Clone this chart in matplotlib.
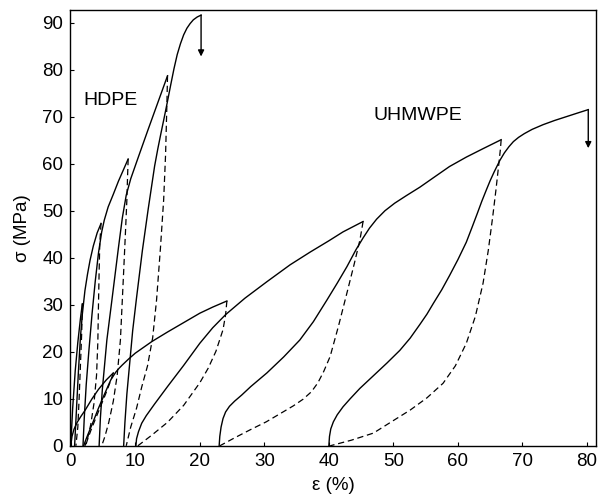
import numpy as np
import matplotlib.pyplot as plt

plt.rcParams['font.family'] = ['Liberation Sans', 'DejaVu Sans']

# strain (%) / stress (MPa)
# HDPE: solid = loading, dashed = unloading
hd_l1_e = [0.0, 0.3, 0.7, 1.1, 1.5, 1.8]
hd_l1_s = [0.0, 8.0, 16.0, 22.0, 27.0, 30.2]
hd_u1_e = [1.8, 1.7, 1.5, 1.3, 1.1, 0.8]
hd_u1_s = [30.2, 24.0, 17.0, 10.0, 4.0, 0.0]
hd_l2_e = [0.6, 0.9, 1.2, 1.5, 1.8, 2.2, 2.6, 3.0, 3.5, 4.1, 4.7]
hd_l2_s = [0.0, 8.0, 16.0, 23.0, 28.0, 33.0, 36.5, 39.5, 42.5, 45.3, 47.3]
hd_u2_e = [4.7, 4.5, 4.4, 4.3, 4.2, 4.0, 3.6, 3.1, 2.6, 2.2]
hd_u2_s = [47.3, 43.0, 37.0, 30.0, 22.0, 15.0, 9.0, 4.5, 1.5, 0.0]
hd_l3_e = [1.9, 2.1, 2.4, 2.8, 3.3, 3.8, 4.3, 4.8, 5.2, 5.8, 6.6, 7.4, 8.2, 8.9]
hd_l3_s = [0.0, 6.0, 13.0, 20.0, 28.0, 35.0, 41.0, 45.5, 48.0, 50.8, 53.5, 56.3,
           58.8, 61.0]
hd_u3_e = [8.9, 8.8, 8.7, 8.5, 8.2, 7.7, 7.2, 6.6, 5.9, 5.3, 4.8]
hd_u3_s = [61.0, 57.0, 52.3, 46.0, 37.0, 22.5, 15.0, 9.5, 5.0, 2.0, 0.0]
hd_l4_e = [4.4, 4.6, 4.9, 5.6, 6.4, 7.4, 8.0, 8.6, 9.3, 10.5, 12.0, 13.5, 15.0]
hd_l4_s = [0.0, 6.0, 12.0, 22.5, 31.2, 42.2, 48.5, 53.3, 56.8, 61.5, 67.3, 73.0,
           78.7]
hd_u4_e = [15.0, 14.9, 14.7, 14.4, 13.9, 13.3, 12.7, 11.9, 11.0, 10.2, 9.3, 8.6]
hd_u4_s = [78.7, 72.5, 62.0, 52.3, 42.0, 31.0, 23.0, 17.0, 12.5, 8.0, 4.0, 0.0]
hd_l5_e = [8.2, 8.4, 8.7, 9.1, 9.6, 10.2, 11.1, 12.0, 13.0, 13.5, 14.0, 14.5,
           15.0, 15.5, 16.0, 16.5, 17.0, 17.5, 18.0, 18.5, 19.0, 19.6, 20.2]
hd_l5_s = [0.0, 5.0, 11.0, 17.0, 24.5, 31.5, 41.5, 50.3, 59.5, 63.2, 66.6, 69.9,
           73.3, 76.8, 80.2, 83.2, 85.5, 87.4, 88.8, 89.8, 90.6, 91.2, 91.6]
hd_break = 82.8

# UHMWPE
uh_l1_e = [0.0, 0.2, 0.5, 1.0, 1.6, 2.2, 3.3, 4.3, 5.5, 6.6]
uh_l1_s = [0.0, 2.0, 3.5, 5.0, 6.3, 7.5, 10.0, 12.0, 14.0, 15.5]
uh_u1_e = [6.6, 6.1, 5.4, 4.6, 3.8, 3.1, 2.6, 2.3]
uh_u1_s = [15.5, 13.5, 11.0, 8.3, 5.6, 3.2, 1.3, 0.0]
uh_l2_e = [2.0, 2.4, 2.9, 3.5, 4.3, 5.3, 6.2, 7.0, 7.5, 8.0, 9.0, 10.0, 12.6, 15.0,
           17.5, 20.0, 22.0, 24.2]
uh_l2_s = [0.0, 1.5, 3.2, 5.2, 8.0, 11.2, 14.0, 15.7, 16.5, 17.2, 18.5, 19.7,
           22.2, 24.2, 26.2, 28.2, 29.5, 30.8]
uh_u2_e = [24.2, 24.0, 23.6, 22.5, 21.3, 20.0, 17.5, 15.0, 12.5, 10.4]
uh_u2_s = [30.8, 27.9, 24.7, 20.1, 16.5, 13.4, 8.6, 5.0, 2.2, 0.0]
uh_l3_e = [10.1, 10.2, 10.5, 11.0, 11.7, 13.0, 15.0, 17.5, 20.0, 22.0, 24.0, 27.0,
           30.4, 34.0, 37.1, 40.0, 42.2, 45.3]
uh_l3_s = [0.0, 1.5, 3.0, 4.8, 6.4, 8.9, 12.6, 17.1, 21.8, 25.1, 27.9, 31.4,
           34.9, 38.5, 41.2, 43.6, 45.5, 47.7]
uh_u3_e = [45.3, 45.1, 44.8, 43.9, 42.8, 41.5, 40.2, 39.2, 38.3, 37.3, 36.0, 34.5,
           32.9, 30.3, 27.8, 25.4, 23.1]
uh_u3_s = [47.7, 46.0, 43.7, 38.5, 32.5, 25.5, 19.0, 15.8, 13.4, 11.5, 9.9, 8.5,
           7.2, 5.1, 3.4, 1.7, 0.0]
uh_l4_e = [23.0, 23.1, 23.3, 23.6, 24.0, 24.6, 25.4, 26.5, 27.9, 30.4, 33.0, 35.5,
           37.6, 39.7, 41.3, 42.8, 44.2, 45.3, 46.3, 47.4, 48.7, 50.2, 52.0, 54.1,
           56.5, 58.7, 61.3, 63.9, 66.7]
uh_l4_s = [0.0, 2.0, 4.0, 5.8, 7.2, 8.4, 9.5, 10.8, 12.6, 15.5, 18.9, 22.5,
           26.4, 31.0, 34.6, 38.1, 41.7, 44.2, 46.3, 48.2, 50.0, 51.6, 53.2, 55.0,
           57.3, 59.4, 61.4, 63.2, 65.1]
uh_u4_e = [66.7, 66.6, 66.4, 65.9, 65.4, 64.7, 63.9, 62.7, 61.3, 59.6, 57.7, 55.2,
           52.6, 49.8, 46.9, 43.5, 40.2]
uh_u4_s = [65.1, 63.3, 60.7, 54.5, 48.8, 41.5, 34.6, 27.5, 21.8, 17.0, 13.3, 10.2,
           7.6, 5.2, 2.7, 1.2, 0.0]
uh_l5_e = [40.0, 40.1, 40.3, 40.7, 41.3, 42.2, 43.3, 44.8, 46.9, 49.0, 51.0, 52.6,
           54.1, 55.2, 56.2, 57.5, 58.7, 60.0, 61.3, 62.2, 63.0, 63.7, 64.4, 65.0,
           65.6, 66.5, 67.2, 67.9, 68.6, 69.4, 70.3, 71.5, 73.2, 75.0, 76.8, 78.6,
           80.2]
uh_l5_s = [0.0, 2.0, 3.6, 5.1, 6.6, 8.3, 10.0, 12.2, 14.9, 17.6, 20.3, 22.9,
           25.8, 28.0, 30.3, 33.2, 36.2, 39.6, 43.3, 46.5, 49.4, 52.0, 54.4, 56.4,
           58.2, 60.7, 62.3, 63.6, 64.7, 65.6, 66.4, 67.3, 68.3, 69.2, 70.0, 70.8,
           71.5]
uh_break = 63.3

loading = [(hd_l1_e, hd_l1_s), (hd_l2_e, hd_l2_s), (hd_l3_e, hd_l3_s),
           (hd_l4_e, hd_l4_s), (hd_l5_e, hd_l5_s),
           (uh_l1_e, uh_l1_s), (uh_l2_e, uh_l2_s), (uh_l3_e, uh_l3_s),
           (uh_l4_e, uh_l4_s), (uh_l5_e, uh_l5_s)]
unloading = [(hd_u1_e, hd_u1_s), (hd_u2_e, hd_u2_s), (hd_u3_e, hd_u3_s),
             (hd_u4_e, hd_u4_s),
             (uh_u1_e, uh_u1_s), (uh_u2_e, uh_u2_s), (uh_u3_e, uh_u3_s),
             (uh_u4_e, uh_u4_s)]

fig = plt.figure(figsize=(5.99, 4.97), dpi=100)
ax = fig.add_axes([0.117, 0.103, 0.878, 0.877])

for e, s in loading:
    ax.plot(e, s, color='black', lw=1.0, solid_joinstyle='round')
for e, s in unloading:
    ax.plot(e, s, color='black', lw=0.9, dashes=(5, 3))

# failure arrows
for e, s, brk in [(hd_l5_e, hd_l5_s, hd_break), (uh_l5_e, uh_l5_s, uh_break)]:
    ax.annotate('', xy=(e[-1], brk), xytext=(e[-1], s[-1]),
                arrowprops=dict(arrowstyle='-|>', color='black', lw=1.0,
                                mutation_scale=9, shrinkA=0, shrinkB=0))

ax.text(6.2, 73.4, 'HDPE', fontsize=14, ha='center', va='center')
ax.text(53.8, 70.2, 'UHMWPE', fontsize=14, ha='center', va='center')

ax.set_xlim(-0.1, 81.4)
ax.set_ylim(0, 92.7)
ax.set_xticks(np.arange(0, 81, 10))
ax.set_yticks(np.arange(0, 91, 10))
ax.tick_params(direction='in', length=3, labelsize=13.5, pad=5)
ax.set_xlabel('ε (%)', fontsize=13.5, labelpad=5)
ax.set_ylabel('σ (MPa)', fontsize=13.5, labelpad=8)
for sp in ax.spines.values():
    sp.set_linewidth(1.0)

fig.savefig('out.png', dpi=100)
